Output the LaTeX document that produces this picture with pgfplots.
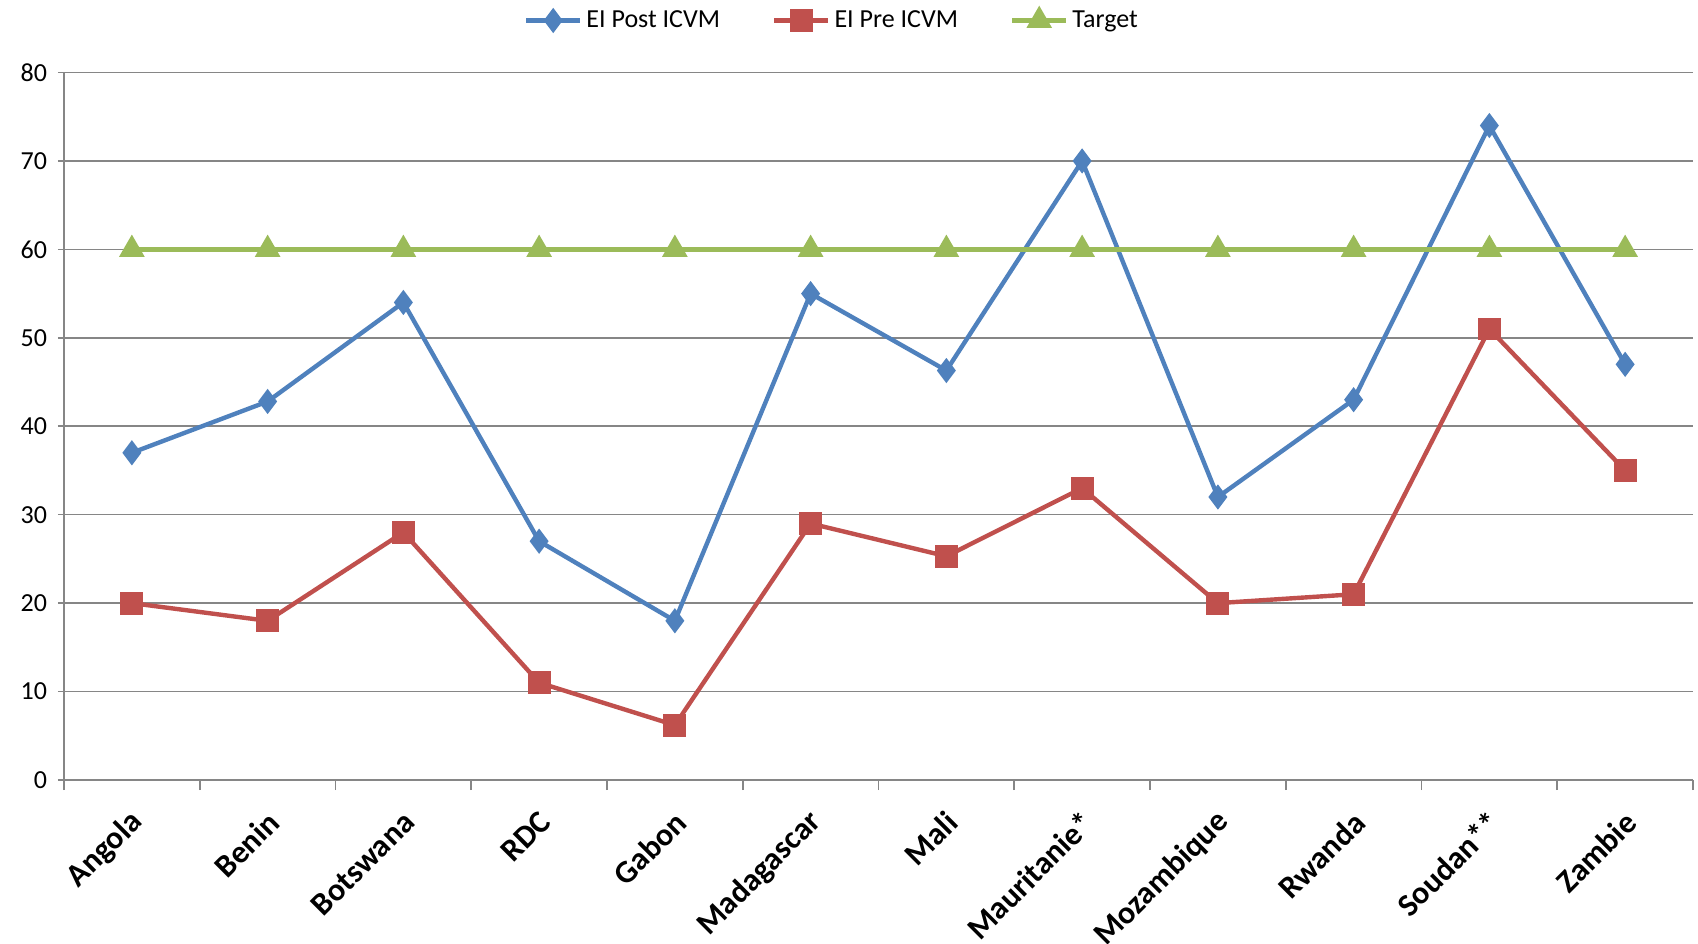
\documentclass[border=0pt]{standalone}
\usepackage{pgfplots}
\pgfplotsset{compat=1.18}
\usepackage{fontspec}
\setmainfont{Carlito}
\definecolor{cblue}{HTML}{4F81BD}
\definecolor{cred}{HTML}{C0504D}
\definecolor{cgreen}{HTML}{9BBB59}
\definecolor{cgrid}{HTML}{868686}
\begin{document}
\begin{tikzpicture}
\path[use as bounding box] (-32pt,-81.5pt) rectangle (817pt,390pt);
\begin{axis}[
  scale only axis,
  width=814.5pt, height=353.75pt,
  xmin=-0.5, xmax=11.5, ymin=0, ymax=80,
  ytick={0,10,...,80},
  ymajorgrids, major grid style={cgrid, line width=0.8pt},
  axis x line*=bottom, axis y line*=left,
  axis line style={cgrid, line width=0.8pt, -},
  xtick={0,...,11},
  xticklabels={Angola,Benin,Botswana,RDC,Gabon,Madagascar,Mali,Mauritanie*,Mozambique,Rwanda,Soudan**,Zambie},
  x tick label style={font=\fontsize{16}{18}\selectfont\bfseries, xshift=5.4pt, yshift=-13.2pt, rotate=45, anchor=east},
  y tick label style={font=\fontsize{13}{15}\selectfont},
  /pgf/number format/assume math mode=true,
  major x tick style={draw=none},
  minor xtick={-0.5,0.5,...,11.5},
  minor x tick style={cgrid, line width=0.8pt},
  minor tick length=5pt,
  major y tick style={cgrid, line width=0.8pt},
  major tick length=3pt,
  tick align=outside,
  yticklabel style={xshift=-2pt},
  legend columns=3,
  legend style={draw=none, at={(0.472,1)}, anchor=center, yshift=26pt, font=\fontsize{13}{15}\selectfont, /tikz/every even column/.append style={column sep=24pt}},
  legend image code/.code={\draw[mark repeat=2,mark phase=2] plot coordinates {(0cm,0cm) (0.475cm,0cm) (0.95cm,0cm)};},
  clip=false,
]
\addplot[cblue, line width=2.2pt, mark=diamond*, mark size=4.5pt, mark options={solid}] coordinates {
(0,37) (1,42.8) (2,54) (3,27) (4,18) (5,55) (6,46.3) (7,70) (8,32) (9,43) (10,74) (11,47)};
\addlegendentry{EI Post ICVM}
\addplot[cred, line width=2.2pt, mark=square*, mark size=4.6pt, mark options={solid}] coordinates {
(0,20) (1,18) (2,28) (3,11) (4,6.2) (5,29) (6,25.3) (7,33) (8,20) (9,21) (10,51) (11,35)};
\addlegendentry{EI Pre ICVM}
\addplot[cgreen, line width=2.2pt, mark=triangle*, mark size=5.2pt, mark options={solid}] coordinates {
(0,60) (1,60) (2,60) (3,60) (4,60) (5,60) (6,60) (7,60) (8,60) (9,60) (10,60) (11,60)};
\addlegendentry{Target}
\end{axis}
\end{tikzpicture}
\end{document}
